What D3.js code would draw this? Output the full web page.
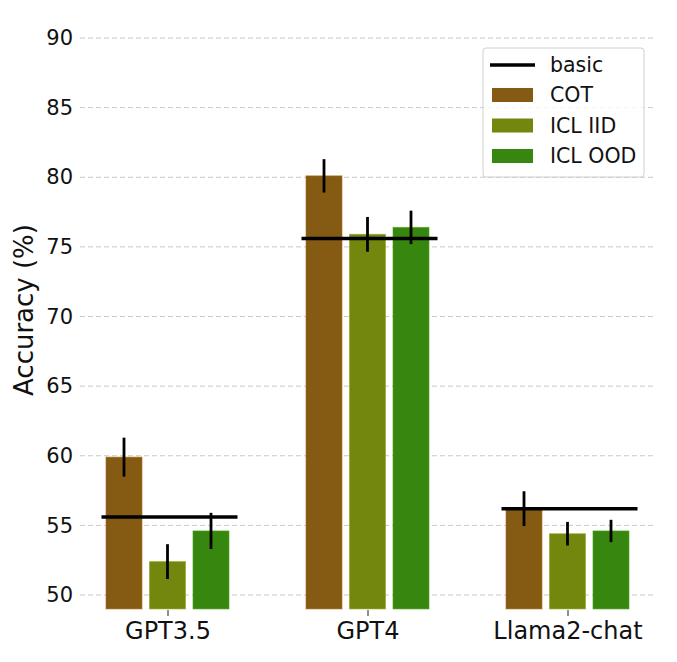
<!DOCTYPE html>
<html><head><meta charset="utf-8">
<script src="https://cdn.jsdelivr.net/npm/d3@7"></script>
<style>body{margin:0;background:#fff}svg{font-family:"DejaVu Sans",sans-serif}</style>
</head><body>
<svg id="c" width="677" height="662"></svg>
<script>
const models = ["GPT3.5", "GPT4", "Llama2-chat"];
const methods = ["COT", "ICL IID", "ICL OOD"];
const colors = ["#855a12", "#73870f", "#37860f"];
const cotVals = [59.9, 80.1, 56.2];
const iidVals = [52.4, 75.9, 54.4];
const oodVals = [54.6, 76.4, 54.6];
const cotErr = [1.4, 1.2, 1.25];
const iidErr = [1.25, 1.25, 0.85];
const oodErr = [1.3, 1.2, 0.8];
const basicVals = [55.6, 75.6, 56.2];
const yTicks = [50, 55, 60, 65, 70, 75, 80, 85, 90];
const barBase = 49;

const vals = [cotVals, iidVals, oodVals];
const errs = [cotErr, iidErr, oodErr];

const svg = d3.select("#c");
const y = d3.scaleLinear().domain([50, 90]).range([595, 38]);
const x = d3.scalePoint().domain(models).range([167.5, 567.5]);
const off = d3.scalePoint().domain(methods).range([-43.5, 43.5]);
const bw = 36;

// grid
svg.append("g").selectAll("line").data(yTicks).join("line")
  .attr("x1", 80).attr("x2", 655)
  .attr("y1", d => y(d)).attr("y2", d => y(d))
  .attr("stroke", "#c8c8c8").attr("stroke-width", 1).attr("stroke-dasharray", "5,3");

// y axis
const ya = svg.append("g").attr("transform", "translate(80,0)")
  .call(d3.axisLeft(y).tickValues(yTicks).tickSize(0).tickPadding(7));
ya.select(".domain").remove();
ya.selectAll("text").attr("font-size", 21).attr("fill", "#111").attr("font-family", "DejaVu Sans");

// x axis
const xa = svg.append("g").attr("transform", "translate(0,610)")
  .call(d3.axisBottom(x).tickSize(6).tickPadding(6));
xa.select(".domain").remove();
xa.selectAll("line").attr("stroke", "#222").attr("stroke-width", 1);
xa.selectAll("text").attr("font-size", 24).attr("fill", "#111").attr("font-family", "DejaVu Sans");

svg.append("text").attr("transform", "translate(33,310) rotate(-90)")
  .attr("text-anchor", "middle").attr("font-size", 26).attr("fill", "#111").text("Accuracy (%)");

// bars
methods.forEach((m, i) => {
  const g = svg.append("g");
  g.selectAll("rect").data(models).join("rect")
    .attr("x", d => x(d) + off(m) - bw / 2)
    .attr("width", bw)
    .attr("y", (d, j) => y(vals[i][j]))
    .attr("height", (d, j) => y(barBase) - y(vals[i][j]))
    .attr("fill", colors[i])
    .attr("stroke", d3.color(colors[i]).brighter(0.6)).attr("stroke-width", 1).attr("stroke-opacity", 0.6);
});

// basic lines
svg.append("g").selectAll("line").data(models).join("line")
  .attr("x1", d => x(d) - 66).attr("x2", d => x(d) + 70)
  .attr("y1", (d, j) => y(basicVals[j])).attr("y2", (d, j) => y(basicVals[j]))
  .attr("stroke", "#000").attr("stroke-width", 3.5);

// error bars
methods.forEach((m, i) => {
  svg.append("g").selectAll("line").data(models).join("line")
    .attr("x1", d => x(d) + off(m)).attr("x2", d => x(d) + off(m))
    .attr("y1", (d, j) => y(vals[i][j] - errs[i][j]))
    .attr("y2", (d, j) => y(vals[i][j] + errs[i][j]))
    .attr("stroke", "#000").attr("stroke-width", 2.8);
});

// legend
const lg = svg.append("g").attr("transform", "translate(483,48)");
lg.append("rect").attr("width", 161).attr("height", 129).attr("rx", 3)
  .attr("fill", "#fff").attr("fill-opacity", 0.8).attr("stroke", "#d0d0d0").attr("stroke-width", 1);
lg.append("line").attr("x1", 7).attr("x2", 52).attr("y1", 17).attr("y2", 17)
  .attr("stroke", "#000").attr("stroke-width", 3.5);
lg.append("text").attr("x", 67).attr("y", 17).attr("dy", "0.35em").attr("font-size", 20.5).attr("fill", "#111").text("basic");
methods.forEach((m, i) => {
  const yy = 47 + i * 30.5;
  lg.append("rect").attr("x", 9).attr("y", yy - 7).attr("width", 41).attr("height", 14).attr("fill", colors[i]);
  lg.append("text").attr("x", 67).attr("y", yy).attr("dy", "0.35em").attr("font-size", 20.5).attr("fill", "#111").text(m);
});
</script>
</body></html>
